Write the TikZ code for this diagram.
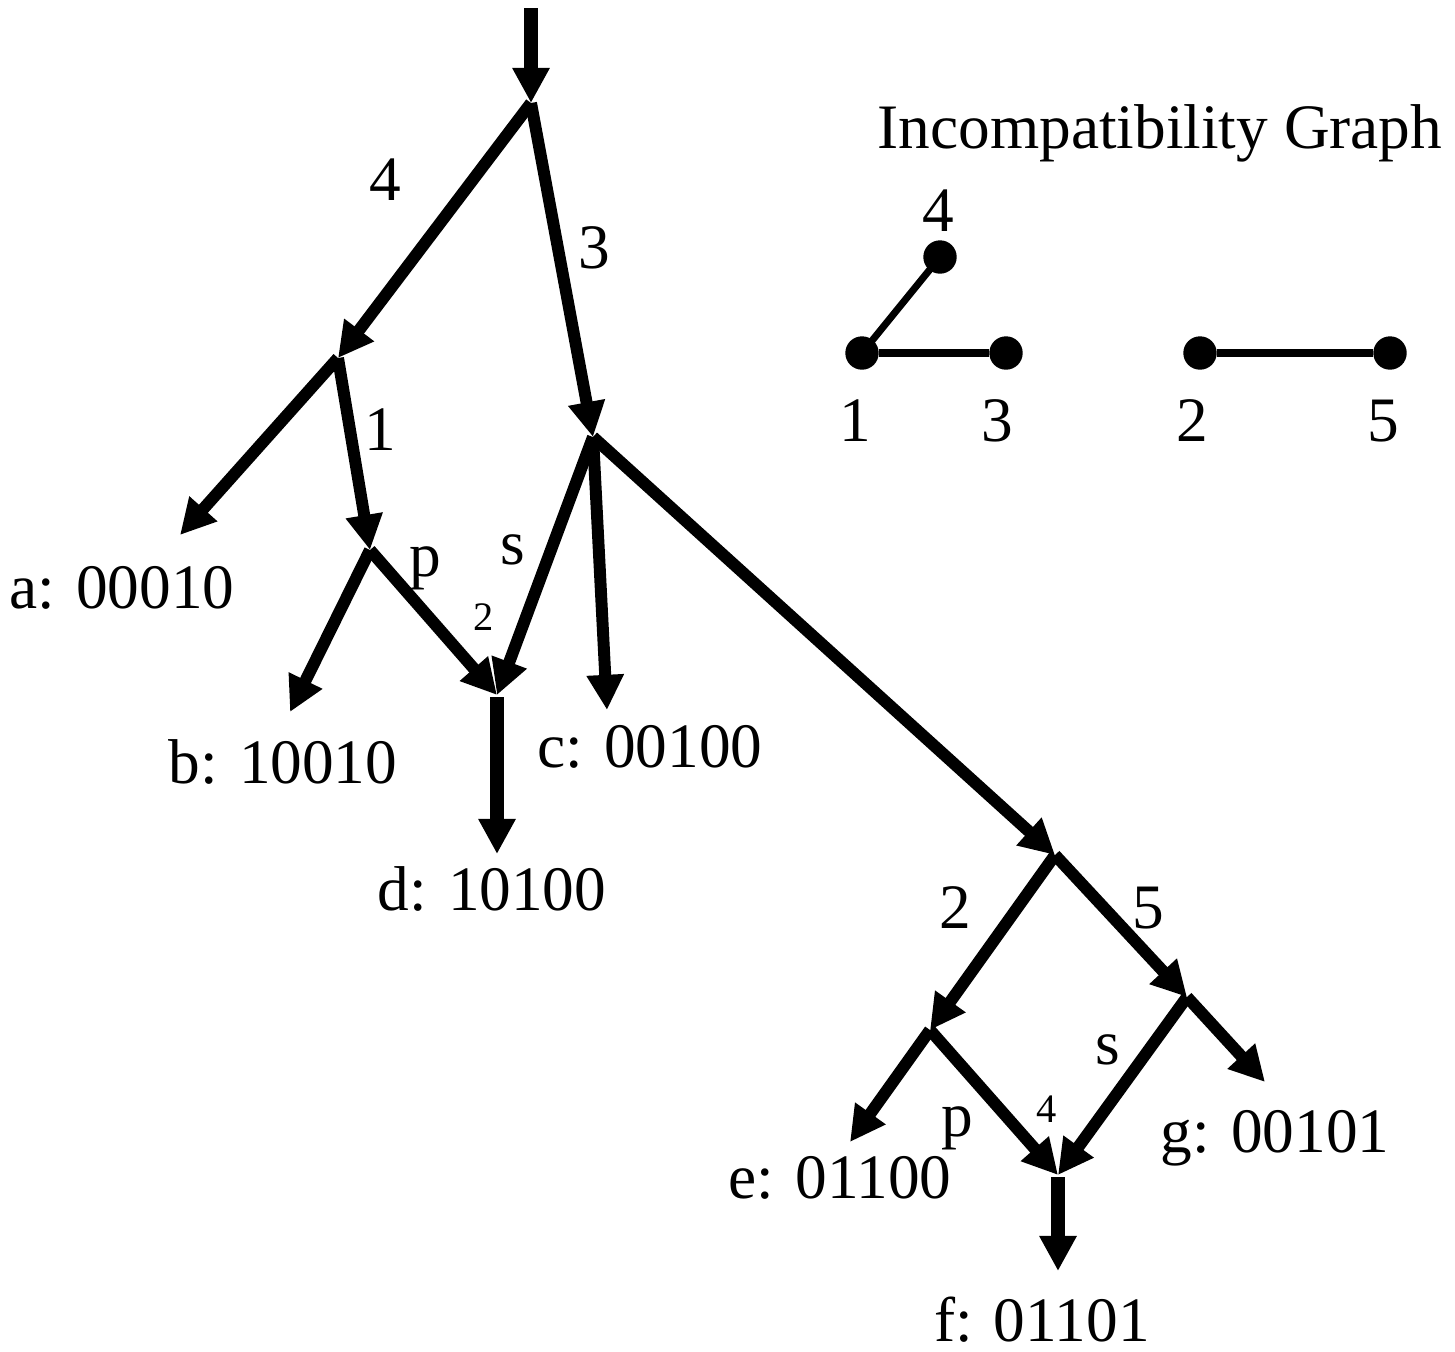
\documentclass[tikz,border=0pt]{standalone}
\usepackage{fontspec}
\setmainfont{Liberation Serif}
\usetikzlibrary{arrows.meta}
\begin{document}
\begin{tikzpicture}[x=0.01cm,y=-0.01cm,
  edge/.style={line width=3.4pt,-{Triangle[length=10pt,width=10pt]},shorten >=0pt},
  thickedge/.style={line width=3.8pt,-{Triangle[length=10pt,width=10pt]}},
  lbl/.style={inner sep=0pt,font=\fontsize{18pt}{20pt}\selectfont,anchor=base},
  small/.style={inner sep=0pt,font=\fontsize{11.5pt}{13pt}\selectfont,anchor=base},
  gdot/.style={circle,fill=black,inner sep=0pt,minimum width=9.5pt},
  gedge/.style={line width=2pt}]
\useasboundingbox (0,0) rectangle (1455,1351);
% tree points
\coordinate (top) at (531,8);
\coordinate (R) at (531,103);
\coordinate (N1) at (338,358);
\coordinate (N3) at (593,437);
\coordinate (P1) at (370,550);
\coordinate (D) at (497,695);
\coordinate (N5) at (1055,855);
\coordinate (N6) at (930,1030);
\coordinate (N7) at (1187,997);
\coordinate (F) at (1058,1175);
\coordinate (ta) at (180,535);
\coordinate (tb) at (290,712);
\coordinate (tc) at (607,710);
\coordinate (td) at (497,854);
\coordinate (te) at (850,1142);
\coordinate (tf) at (1058,1271);
\coordinate (tg) at (1265,1082);
\coordinate (Ds) at (497,697);
\coordinate (Fs) at (1058,1177);
% edges
\draw[thickedge] (top) -- (R);
\draw[edge] (R) -- (N1);
\draw[edge] (R) -- (N3);
\draw[edge] (N1) -- (ta);
\draw[edge] (N1) -- (P1);
\draw[edge] (P1) -- (tb);
\draw[edge] (P1) -- (D);
\draw[edge] (N3) -- (D);
\draw[thickedge] (Ds) -- (td);
\draw[edge] (N3) -- (tc);
\draw[edge] (N3) -- (N5);
\draw[edge] (N5) -- (N6);
\draw[edge] (N5) -- (N7);
\draw[edge] (N6) -- (te);
\draw[edge] (N6) -- (F);
\draw[edge] (N7) -- (F);
\draw[edge] (N7) -- (tg);
\draw[thickedge] (Fs) -- (tf);
% leaf labels
\node[lbl] (la) at (122,608) {a: 00010};
\node[lbl] (lb) at (283,783) {b: 10010};
\node[lbl] (lc) at (650,767) {c: 00100};
\node[lbl] (ld) at (492,910) {d: 10100};
\node[lbl] (le) at (840,1198) {e: 01100};
\node[lbl,text depth=0pt] (lf) at (1042,1341) {f: 01101};
\node[lbl] (lg) at (1275,1152) {g: 00101};
% edge labels
\node[lbl] (e4) at (385,200) {4};
\node[lbl] (e3) at (594,268) {3};
\node[lbl] (e1) at (380,450) {1};
\node[lbl] (ep1) at (425,576) {p};
\node[lbl] (es1) at (513,564) {s};
\node[small] (e2s) at (484,630) {2};
\node[lbl] (e2) at (955,928) {2};
\node[lbl] (e5) at (1148,928) {5};
\node[lbl] (es2) at (1108,1064) {s};
\node[lbl] (ep2) at (957,1136) {p};
\node[small] (e4s) at (1047,1122) {4};
% incompatibility graph
\node[lbl] (title) at (1160,148) {Incompatibility Graph};
\node[gdot] (g1) at (862,353) {};
\node[gdot] (g3) at (1006,353) {};
\node[gdot] (g4) at (940,257) {};
\node[gdot] (g2) at (1200,353) {};
\node[gdot] (g5) at (1390,353) {};
\draw[gedge] (g1) -- (g3);
\draw[gedge] (g1.center) -- (g4.center);
\draw[gedge] (g2) -- (g5);
\node[lbl] (n4) at (938,231) {4};
\node[lbl] (n1) at (855,441) {1};
\node[lbl] (n3) at (997,441) {3};
\node[lbl] (n2) at (1192,441) {2};
\node[lbl] (n5) at (1383,441) {5};
\end{tikzpicture}
\end{document}
